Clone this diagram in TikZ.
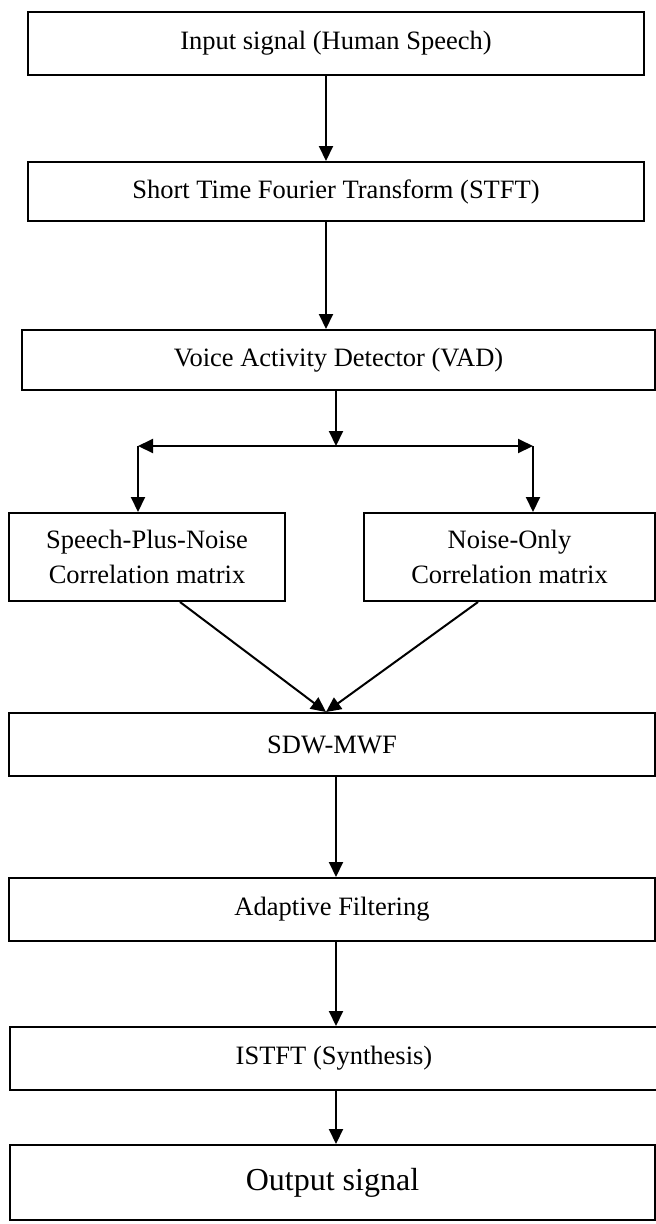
\documentclass[tikz,border=0pt]{standalone}
\usepackage{fontspec}
\setmainfont{Liberation Serif}
\usetikzlibrary{arrows.meta}
\begin{document}
\begin{tikzpicture}[x=1pt,y=1pt,
  box/.style={draw=black, line width=2pt, inner sep=0pt, align=center,
    font=\fontsize{26.5}{35}\selectfont},
  arr/.style={line width=2pt, -{Triangle[width=14pt,length=15pt]}}]
\useasboundingbox (0,0) rectangle (656,-1224);
\node[box, minimum width=616pt, minimum height=63pt] (b1) at (336,-43.5) {Input signal (Human Speech)};
\node[box, minimum width=616pt, minimum height=59pt] (b2) at (336,-191.5) {Short Time Fourier Transform (STFT)};
\node[box, minimum width=633pt, minimum height=60pt] (b3) at (338.5,-360) {Voice Activity Detector (VAD)};
\node[box, minimum width=276pt, minimum height=88pt] (lb) at (147,-557) {Speech-Plus-Noise\\Correlation matrix};
\node[box, minimum width=291pt, minimum height=88pt] (rb) at (509.5,-557) {Noise-Only\\Correlation matrix};
\node[box, minimum width=646pt, minimum height=63pt] (sdw) at (332,-744.5) {SDW-MWF};
\node[box, minimum width=646pt, minimum height=63pt] (af) at (332,-909.5) {Adaptive Filtering};
\node[box, minimum width=648pt, minimum height=63pt] (is) at (334,-1058.5) {ISTFT (Synthesis)};
\node[box, minimum width=645pt, minimum height=75pt, font=\fontsize{32}{38}\selectfont] (out) at (332.5,-1182.5) {Output signal};
\coordinate (split) at (336,-446);
\coordinate (L) at (138,-446);
\coordinate (R) at (533,-446);
\coordinate (c1) at (326,0);
\coordinate (c2) at (336,0);
\draw[arr] (b1.south -| c1) -- (b2.north -| c1);
\draw[arr] (b2.south -| c1) -- (b3.north -| c1);
\draw[arr] (b3.south -| c2) -- (split);
\draw[arr] (split) -- (L);
\draw[arr] (split) -- (R);
\draw[arr] (L) -- (lb.north -| L);
\draw[arr] (R) -- (rb.north -| R);
\draw[arr] ([xshift=33pt]lb.south) -- ([xshift=-6pt]sdw.north);
\draw[arr] ([xshift=-31.5pt]rb.south) -- ([xshift=-6pt]sdw.north);
\draw[arr] (sdw.south -| c2) -- (af.north -| c2);
\draw[arr] (af.south -| c2) -- (is.north -| c2);
\draw[arr] (is.south -| c2) -- (out.north -| c2);
\end{tikzpicture}
\end{document}
